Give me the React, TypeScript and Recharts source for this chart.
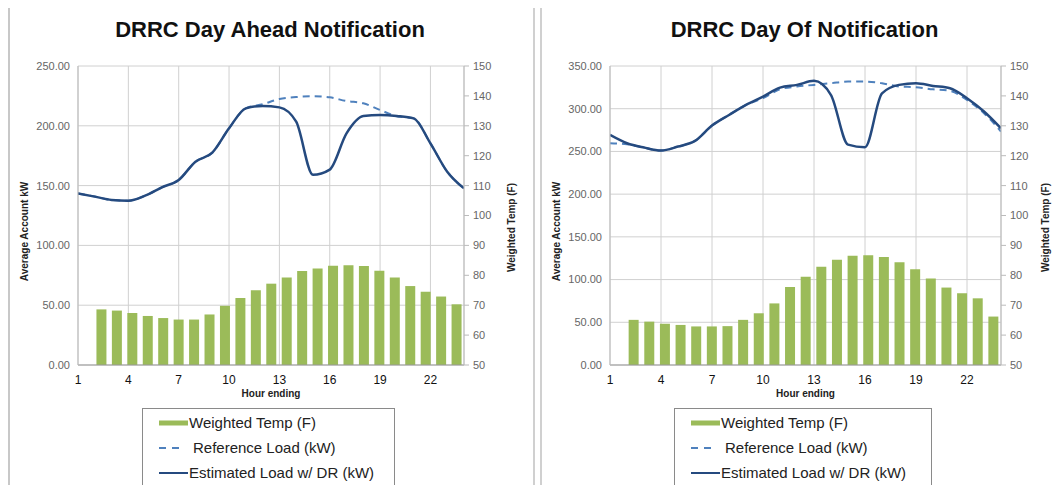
import React from 'react';
import {
    ComposedChart, Bar, Line, XAxis, YAxis, CartesianGrid
} from 'recharts';

// hour ending 1..24
const hours = [1, 2, 3, 4, 5, 6, 7, 8, 9, 10, 11, 12, 13, 14, 15, 16, 17, 18, 19, 20, 21, 22, 23, 24];
const hourTicks = [1, 4, 7, 10, 13, 16, 19, 22];
const tempTicks = [50, 60, 70, 80, 90, 100, 110, 120, 130, 140, 150];

// Day Ahead
const aheadTemp = [68.6, 68.2, 67.4, 66.4, 65.7, 65.2, 65.2, 66.9, 69.8, 72.4, 75.0, 77.2, 79.3, 81.4, 82.3, 83.2, 83.4, 83.1, 81.5, 79.3, 76.4, 74.5, 72.9, 70.3];
const aheadRef = [143.5, 140.8, 138.0, 137.4, 141.6, 148.6, 154.7, 170.0, 177.5, 197.9, 214.6, 218.0, 222.4, 224.0, 224.7, 223.8, 220.7, 218.8, 213.2, 208.0, 206.2, 185.3, 161.6, 147.7];
const aheadEst = [143.5, 140.8, 138.0, 137.4, 141.6, 148.6, 154.7, 170.0, 177.5, 197.9, 214.6, 216.6, 215.4, 203.4, 159.0, 163.4, 193.7, 208.2, 209.0, 208.2, 206.2, 185.3, 161.6, 147.7];
const aheadKwTicks = [0, 50, 100, 150, 200, 250];

// Day Of
const ofTemp = [65.1, 64.5, 63.8, 63.4, 62.9, 62.9, 63.0, 65.1, 67.3, 70.6, 76.1, 79.5, 82.9, 85.2, 86.5, 86.7, 86.1, 84.4, 82.0, 78.9, 75.9, 74.0, 72.3, 66.2];
const ofRef = [259.6, 258.4, 254.5, 251.0, 255.7, 262.3, 280.3, 292.7, 304.5, 312.3, 322.7, 326.0, 327.9, 329.8, 331.8, 331.8, 329.8, 326.0, 325.2, 322.7, 320.9, 310.3, 294.8, 273.2];
const ofEst = [269.3, 259.6, 254.5, 251.0, 255.7, 262.3, 280.3, 292.7, 304.5, 314.2, 324.7, 327.9, 332.6, 316.0, 258.0, 255.0, 318.0, 327.9, 329.8, 326.7, 324.0, 312.3, 296.7, 277.0];
const ofKwTicks = [0, 50, 100, 150, 200, 250, 300, 350];

const FONT = '"Liberation Sans", Arial, sans-serif';
const GREEN = '#9BBB59';
const REF_BLUE = '#4F81BD';
const EST_BLUE = '#254A7F';
const GRID = '#d0d0d0';

interface PanelProps {
    title: string;
    temp: number[];
    refLoad: number[];
    estLoad: number[];
    kwTicks: number[];
    left: number;
    width: number;
    marginLeft: number;
    marginRight: number;
    rightAxisWidth: number;
    legendLeft: number;
    legendWidth: number;
    rightLabelX: number;
}

function Panel(p: PanelProps) {
    // 25 band slots: the first one is empty, as in the original sheet
    const barRows = [{ slot: 0, temp: null as number | null }].concat(
        hours.map((h, i) => ({ slot: h, temp: p.temp[i] }))
    );
    const lineRows = hours.map((h, i) => ({ hour: h, ref: p.refLoad[i], est: p.estLoad[i] }));
    const kwMax = p.kwTicks[p.kwTicks.length - 1];
    const plotLeft = p.marginLeft + 60;
    const plotRight = p.width - p.marginRight - p.rightAxisWidth;
    const plotMid = (plotLeft + plotRight) / 2;

    return (
        <div style={{ position: 'absolute', left: p.left, top: 0, width: p.width, height: 485 }}>
            <div style={{ position: 'absolute', left: 0, width: p.width, top: 17, textAlign: 'center', fontSize: 22, fontWeight: 'bold', color: '#111', fontFamily: FONT }}>
                <span style={{ position: 'relative', left: plotMid - p.width / 2 - 1 }}>{p.title}</span>
            </div>
            <ComposedChart
                width={p.width}
                height={400}
                data={barRows}
                margin={{ top: 66, right: p.marginRight, bottom: 5, left: p.marginLeft }}
                barSize={10}
            >
                <XAxis xAxisId="bar" dataKey="slot" type="category" hide height={0} />
                <XAxis
                    xAxisId="hour"
                    dataKey="hour"
                    type="number"
                    domain={[1, 24]}
                    ticks={hourTicks}
                    allowDataOverflow
                    height={30}
                    tickLine={false}
                    tickSize={0}
                    tickMargin={10}
                    axisLine={{ stroke: '#999' }}
                    tick={{ fontSize: 12, fill: '#111', fontFamily: FONT }}
                />
                <YAxis
                    yAxisId="kw"
                    orientation="left"
                    width={60}
                    domain={[0, kwMax]}
                    ticks={p.kwTicks}
                    tickFormatter={(v: number) => v.toFixed(2)}
                    tickLine={false}
                    tickSize={0}
                    tickMargin={8}
                    axisLine={{ stroke: '#bbb' }}
                    tick={{ fontSize: 11, fill: '#666', fontFamily: FONT }}
                />
                <YAxis
                    yAxisId="temp"
                    orientation="right"
                    width={p.rightAxisWidth}
                    domain={[50, 150]}
                    ticks={tempTicks}
                    tickSize={5}
                    tickMargin={4}
                    tickLine={{ stroke: '#bbb' }}
                    axisLine={{ stroke: '#bbb' }}
                    tick={{ fontSize: 11, fill: '#666', fontFamily: FONT }}
                />
                <CartesianGrid xAxisId="hour" yAxisId="kw" stroke={GRID} />
                <Bar xAxisId="bar" yAxisId="temp" dataKey="temp" fill={GREEN} isAnimationActive={false} />
                <Line
                    xAxisId="hour"
                    yAxisId="kw"
                    data={lineRows}
                    dataKey="ref"
                    type="monotone"
                    stroke={REF_BLUE}
                    strokeWidth={2}
                    strokeDasharray="7 5"
                    dot={false}
                    isAnimationActive={false}
                />
                <Line
                    xAxisId="hour"
                    yAxisId="kw"
                    data={lineRows}
                    dataKey="est"
                    type="monotone"
                    stroke={EST_BLUE}
                    strokeWidth={2.5}
                    dot={false}
                    isAnimationActive={false}
                />
            </ComposedChart>
            <div style={{ position: 'absolute', left: plotMid - 60, width: 120, top: 388, textAlign: 'center', fontSize: 10, fontWeight: 'bold', color: '#222', fontFamily: FONT }}>
                Hour ending
            </div>
            <div style={{ position: 'absolute', left: p.marginLeft + 6 - 100, width: 200, top: 226, textAlign: 'center', fontSize: 10, fontWeight: 'bold', color: '#222', fontFamily: FONT, transform: 'rotate(-90deg)' }}>
                Average Account kW
            </div>
            <div style={{ position: 'absolute', left: p.rightLabelX - 100, width: 200, top: 222, textAlign: 'center', fontSize: 10, fontWeight: 'bold', color: '#222', fontFamily: FONT, transform: 'rotate(-90deg)' }}>
                Weighted Temp (F)
            </div>
            <div style={{ position: 'absolute', left: p.legendLeft, top: 408, width: p.legendWidth, height: 80, border: '1px solid #8a8a8a', background: '#fff', fontFamily: FONT, fontSize: 15, color: '#222' }}>
                <div style={{ position: 'absolute', left: 16, top: 5, display: 'flex', alignItems: 'center', whiteSpace: 'nowrap' }}>
                    <svg width={29} height={16}><rect x={0} y={5.5} width={29} height={5} fill={GREEN} /></svg>
                    <span style={{ marginLeft: 1 }}>Weighted Temp (F)</span>
                </div>
                <div style={{ position: 'absolute', left: 16, top: 30, display: 'flex', alignItems: 'center', whiteSpace: 'nowrap' }}>
                    <svg width={29} height={16}><line x1={0} y1={8} x2={24} y2={8} stroke={REF_BLUE} strokeWidth={2} strokeDasharray="7 6" /></svg>
                    <span style={{ marginLeft: 5 }}>Reference Load (kW)</span>
                </div>
                <div style={{ position: 'absolute', left: 16, top: 55, display: 'flex', alignItems: 'center', whiteSpace: 'nowrap' }}>
                    <svg width={29} height={16}><line x1={0} y1={8} x2={29} y2={8} stroke={EST_BLUE} strokeWidth={2} /></svg>
                    <span style={{ marginLeft: 1 }}>Estimated Load w/ DR (kW)</span>
                </div>
            </div>
        </div>
    );
}

export default function App() {
    return (
        <div style={{ position: 'absolute', left: 0, top: 0, width: 1052, height: 485, background: '#fff', overflow: 'hidden' }}>
            <div style={{ position: 'absolute', left: 8, top: 8, width: 2, height: 477, background: '#c8c8c8' }} />
            <Panel
                title="DRRC Day Ahead Notification"
                temp={aheadTemp}
                refLoad={aheadRef}
                estLoad={aheadEst}
                kwTicks={aheadKwTicks}
                left={0}
                width={530}
                marginLeft={18}
                marginRight={16}
                rightAxisWidth={50}
                legendLeft={142}
                legendWidth={251}
                rightLabelX={511}
            />
            <Panel
                title="DRRC Day Of Notification"
                temp={ofTemp}
                refLoad={ofRef}
                estLoad={ofEst}
                kwTicks={ofKwTicks}
                left={530}
                width={522}
                marginLeft={20}
                marginRight={6}
                rightAxisWidth={45}
                legendLeft={144}
                legendWidth={256}
                rightLabelX={515}
            />
            <div style={{ position: 'absolute', left: 533, top: 8, width: 2, height: 477, background: '#d0d0d0' }} />
            <div style={{ position: 'absolute', left: 540, top: 8, width: 2, height: 477, background: '#d0d0d0' }} />
        </div>
    );
}
